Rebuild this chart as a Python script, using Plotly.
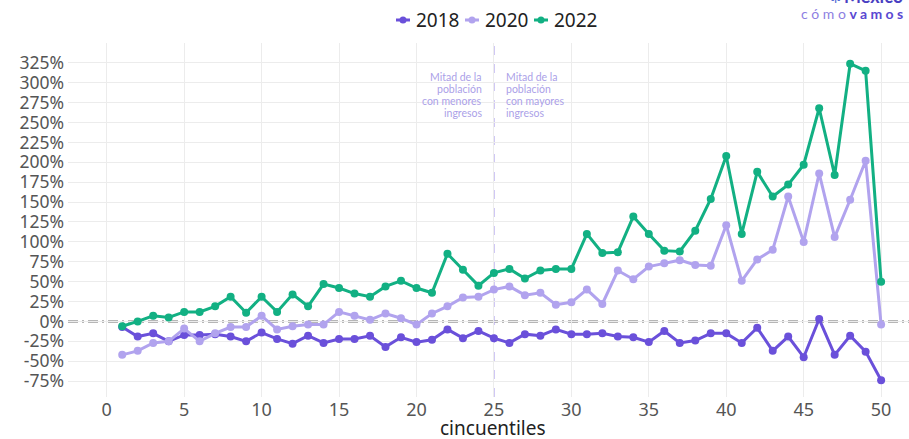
import plotly.graph_objects as go

cincuentiles = list(range(1, 51))
y2018 = [-7, -19, -15, -25, -17, -17, -16, -19, -25, -14,
         -22, -28, -18, -27, -22, -22, -18, -32, -20, -26,
         -23, -10, -21, -12, -21, -27, -16, -18, -10, -16,
         -16, -15, -19, -20, -26, -12, -27, -24, -15, -15,
         -27, -8, -37, -19, -45, 3, -42, -18, -38, -74]
y2020 = [-42, -37, -27, -25, -9, -25, -15, -7, -7, 7,
         -10, -6, -4, -4, 12, 7, 2, 10, 4, -4,
         10, 19, 30, 31, 40, 44, 33, 36, 21, 24,
         40, 22, 64, 53, 69, 73, 77, 71, 70, 121,
         51, 78, 90, 157, 100, 186, 106, 153, 202, -4]
y2022 = [-6, 0, 7, 5, 12, 12, 19, 31, 11, 31,
         12, 34, 19, 47, 42, 35, 31, 44, 51, 42,
         36, 85, 65, 45, 61, 66, 54, 64, 66, 66,
         110, 86, 87, 132, 110, 89, 88, 114, 154, 208,
         110, 188, 157, 172, 197, 268, 184, 324, 315, 50]

years = ["2018", "2020", "2022"]
values = [y2018, y2020, y2022]
colors = ["#6a50da", "#b1a3ee", "#12b083"]
ytickvals = list(range(-75, 326, 25))
yticktext = [f"{v}%" for v in ytickvals]
xtickvals = list(range(0, 51, 5))
left_note = ["Mitad de la", "población", "con menores", "ingresos"]
right_note = ["Mitad de la", "población", "con mayores", "ingresos"]

W, H = 909, 439
L, R, T, B = 68, 0, 43, 42
PW, PH = W - L - R, H - T - B


def xp(px):
    return (px - L) / PW


def yp(py):
    return (H - B - py) / PH


fig = go.Figure()
for name, ys, col in zip(years, values, colors):
    fig.add_trace(go.Scatter(x=cincuentiles, y=ys, name=name, mode="lines+markers",
                             line=dict(color=col, width=3),
                             marker=dict(color=col, size=8), showlegend=False))

fig.add_hline(y=0, line=dict(color="#6e6e6e", width=2, dash="10px,4px,2px,4px"), layer="below")
fig.add_vline(x=25, line=dict(color="#b9aef0", width=1.5, dash="dash"), layer="below")

note_font = dict(family="Lato, sans-serif", size=10.5, color="#ab9fe8")
for i, (lt, rt) in enumerate(zip(left_note, right_note)):
    yy = yp(77 + i * 12)
    fig.add_annotation(x=25, y=yy, xref="x", yref="paper", xshift=-10, text=lt,
                       showarrow=False, xanchor="right", yanchor="middle", font=note_font)
    fig.add_annotation(x=25, y=yy, xref="x", yref="paper", xshift=10, text=rt,
                       showarrow=False, xanchor="left", yanchor="middle", font=note_font)

# custom legend
leg_x = [396, 465, 534]
for lx, name, col in zip(leg_x, years, colors):
    fig.add_shape(type="line", xref="paper", yref="paper", x0=xp(lx), x1=xp(lx + 14),
                  y0=yp(20), y1=yp(20), line=dict(color=col, width=3))
    fig.add_shape(type="circle", xref="paper", yref="paper", x0=xp(lx + 3.5), x1=xp(lx + 10.5),
                  y0=yp(23.5), y1=yp(16.5), line=dict(color=col, width=0), fillcolor=col)
    fig.add_annotation(x=xp(lx + 18), y=yp(20), xref="paper", yref="paper", text=name,
                       showarrow=False, xanchor="left", yanchor="middle",
                       font=dict(family="Noto Sans, sans-serif", size=19, color="#222222"))

# logo (cut off at top)
fig.add_annotation(x=xp(905), y=yp(-4), xref="paper", yref="paper", text="<b>México</b>",
                   showarrow=False, xanchor="right", yanchor="middle",
                   font=dict(family="Lato, sans-serif", size=18, color="#4a3fc2"))
fig.add_annotation(x=xp(842), y=yp(-1), xref="paper", yref="paper", text="<b>-I-</b>",
                   showarrow=False, xanchor="right", yanchor="middle",
                   font=dict(family="Lato, sans-serif", size=9, color="#5a6fd6"))
fig.add_annotation(x=xp(905), y=yp(13), xref="paper", yref="paper",
                   text="<span style='color:#8d80e2'>c ó m o </span><b>v a m o s</b>",
                   showarrow=False, xanchor="right", yanchor="middle",
                   font=dict(family="Lato, sans-serif", size=14, color="#5a48d2"))

# x axis title
fig.add_annotation(x=xp(493), y=yp(428), xref="paper", yref="paper", text="cincuentiles",
                   showarrow=False, xanchor="center", yanchor="middle",
                   font=dict(family="Noto Sans, sans-serif", size=19, color="#222222"))

fig.update_layout(
    width=W, height=H,
    margin=dict(l=L, r=R, t=T, b=B, autoexpand=False),
    paper_bgcolor="white", plot_bgcolor="white",
    font=dict(family="Noto Sans, sans-serif", color="#555555"),
    showlegend=False,
    xaxis=dict(range=[-2.5, 51.8], tickvals=xtickvals, showgrid=True, gridcolor="#ececec",
               gridwidth=1, zeroline=False, showline=False, ticks="",
               tickfont=dict(size=18, color="#555555")),
    yaxis=dict(range=[-95, 350], tickvals=ytickvals, ticktext=yticktext, showgrid=True,
               gridcolor="#ececec", gridwidth=1, zeroline=False, showline=False, ticks="",
               tickfont=dict(size=17.5, color="#555555"), ticklabelstandoff=3),
)

fig.write_html("out.html", config={"displayModeBar": False},
               post_script="document.body.style.margin='0';document.body.style.overflow='hidden';")
